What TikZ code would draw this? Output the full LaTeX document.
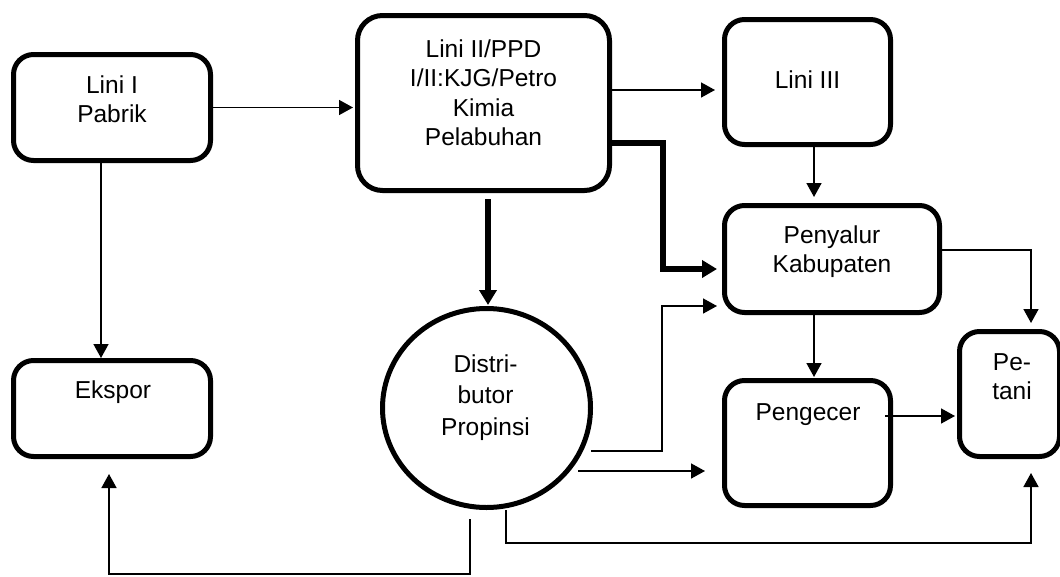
\documentclass[tikz,border=0pt]{standalone}
\usepackage{fontspec}
\setmainfont{Liberation Sans}
\usetikzlibrary{arrows.meta,calc,shapes.geometric}
\newcommand{\mlines}[1]{\begin{tabular}[t]{@{}c@{}}#1\end{tabular}}
\begin{document}
\begin{tikzpicture}[x=1pt,y=-1pt,
  box/.style={draw,line width=5pt,rounded corners=20pt,inner sep=0pt},
  txt/.style={anchor=base,inner sep=0pt,font=\fontsize{24.5}{29.5}\selectfont},
  thinarrow/.style={line width=1.6pt,-{Triangle[length=14pt,width=15pt]}},
  thickarrow/.style={line width=6pt,-{Triangle[length=15pt,width=17pt]}},
]
\useasboundingbox (0,0) rectangle (1060,576);

% boxes
\node[box,minimum width=197pt,minimum height=106pt] (l1) at (112,107.5) {};
\node[box,rounded corners=25pt,minimum width=252pt,minimum height=175pt] (l2) at (483.5,103) {};
\node[box,minimum width=166pt,minimum height=125pt] (l3) at (807.5,82) {};
\node[box,minimum width=215pt,minimum height=107pt] (pen) at (832,259) {};
\node[box,minimum width=100pt,minimum height=125pt] (pet) at (1009.5,394) {};
\node[box,minimum width=166pt,minimum height=125pt] (peng) at (807.5,443) {};
\node[box,minimum width=197pt,minimum height=96pt] (eks) at (112,408.5) {};
\node[draw,ellipse,line width=5pt,inner sep=0pt,minimum width=208pt,minimum height=199pt] (dist) at (486.5,408) {};

% texts
\node[txt] (t1) at (112,93) {\mlines{Lini I\\Pabrik}};
\node[txt] (t2) at (483.5,57) {\mlines{Lini II/PPD\\I/II:KJG/Petro\\Kimia\\Pelabuhan}};
\node[txt] (t3) at (807.5,88) {Lini III};
\node[txt] (t4) at (832,243) {\mlines{Penyalur\\Kabupaten}};
\node[txt] (t5) at (1012,370) {\mlines{Pe-\\tani}};
\node[txt] (t6) at (808,420) {Pengecer};
\node[txt] (t7) at (113,398) {Ekspor};
\node[txt,font=\fontsize{24.5}{31.5}\selectfont] (t8) at (485.5,372) {\mlines{Distri-\\butor\\Propinsi}};

% connectors
\draw[thinarrow,shorten >=2pt] (l1.east) -- (l1.east -| l2.west);
\draw[thinarrow] ($(l1.south)+(-11,0)$) -- ($(eks.north)+(-11,0)$);
\draw[thinarrow,shorten >=7pt] ($(l2.east)+(0,-13)$) coordinate (a1) -- (a1 -| l3.west);
\draw[thickarrow,shorten >=5pt] ($(l2.east)+(-2,40)$) -- ++(53,0) |- ($(pen.west)+(0,10)$);
\draw[thickarrow,shorten >=1pt] ($(l2.south -| dist.north)+(1.5,6)$) coordinate (a2) -- (a2 |- dist.north);
\draw[thinarrow,shorten >=6pt] ($(l3.south)+(6.5,0)$) coordinate (a3) -- (a3 |- pen.north);
\draw[thinarrow,shorten >=5pt] ($(dist.center)+(104.5,43)$) -| ($(pen.west)+(-60,47)$) -- ($(pen.west)+(0,47)$);
\draw[thinarrow,shorten >=17pt] ($(dist.center)+(91.5,63)$) coordinate (a4) -- (a4 -| peng.west);
\draw[thinarrow,shorten >=14pt] ($(dist.south)+(19.5,0)$) -- ++(0,33) -| ($(pet.south)+(21.5,0)$);
\draw[thinarrow,shorten >=15pt] ($(dist.south)+(-16.5,9)$) -- ++(0,55) -| ($(eks.south)+(-3,0)$);
\draw[thinarrow,shorten >=6pt] ($(pen.east)+(0,-9)$) -| ($(pet.north)+(21.5,0)$);
\draw[thinarrow,shorten >=1pt] ($(pen.south)+(-18,-5)$) -- ($(peng.north)+(6.5,0)$);
\draw[thinarrow,shorten >=2pt] ($(peng.east)+(-8,-27)$) coordinate (a5) -- (a5 -| pet.west);
\end{tikzpicture}
\end{document}
